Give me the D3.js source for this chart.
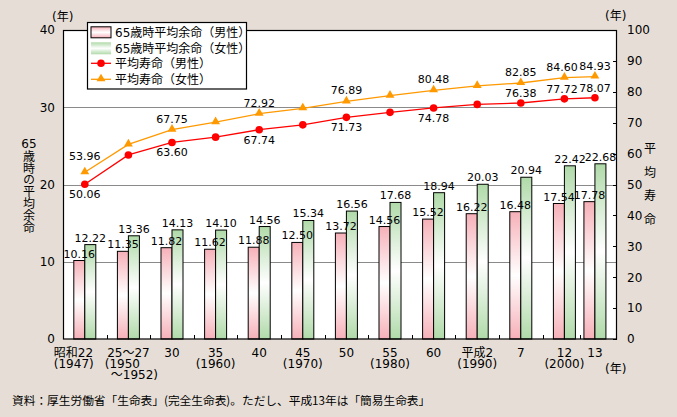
<!DOCTYPE html>
<html><head><meta charset="utf-8">
<script src="https://cdn.jsdelivr.net/npm/d3@7"></script>
<style>
html,body{margin:0;padding:0;background:#e6ded6;}
svg{display:block;}
text{font-family:"DejaVu Sans","Noto Sans CJK JP",sans-serif;fill:#000;}
</style></head><body><svg id="c" width="677" height="417"></svg>
<script>
// ---- data ----
const categories = ["昭和22","25～27","30","35","40","45","50","55","60","平成2","7","12","13"];
const categoryLines = [["昭和22","(1947)"],["25～27","(1950　","　～1952)"],["30"],["35","(1960)"],["40"],["45","(1970)"],["50"],["55","(1980)"],["60"],["平成2","(1990)"],["7"],["12","(2000)"],["13"]];
const male65 = [10.16,11.35,11.82,11.62,11.88,12.50,13.72,14.56,15.52,16.22,16.48,17.54,17.78];
const female65 = [12.22,13.36,14.13,14.10,14.56,15.34,16.56,17.68,18.94,20.03,20.94,22.42,22.68];
const maleLife = [50.06,59.57,63.60,65.32,67.74,69.31,71.73,73.35,74.78,75.92,76.38,77.72,78.07];
const femaleLife = [53.96,62.97,67.75,70.19,72.92,74.66,76.89,78.76,80.48,81.90,82.85,84.60,84.93];
const lifeLabelled = ["昭和22","30","40","50","60","7","12","13"];
const leftTicks = [0,10,20,30,40];
const rightTicks = [0,10,20,30,40,50,60,70,80,90,100];
const legendLabels = ["65歳時平均余命（男性）","65歳時平均余命（女性）","平均寿命（男性）","平均寿命（女性）"];
const leftTitleHead = "65";
const leftTitleBody = "歳時の平均余命";
const rightTitle = ["平","均","寿","命"];
const footnote = "資料：厚生労働省「生命表」(完全生命表)。ただし、平成13年は「簡易生命表」";

// ---- layout ----
const W=677,H=417;
const P={l:63,r:617,t:30,b:339};
const step=43.6, barW=11;
const svg=d3.select("#c");
svg.append("rect").attr("width",W).attr("height",H).attr("fill","#e6ded6");
const defs=svg.append("defs");
function grad(id,c){
  const g=defs.append("linearGradient").attr("id",id).attr("x1",0).attr("y1",0).attr("x2",0).attr("y2",1);
  g.append("stop").attr("offset","0%").attr("stop-color",c);
  g.append("stop").attr("offset","50%").attr("stop-color","#fff");
  g.append("stop").attr("offset","100%").attr("stop-color",c);
}
grad("gp","#f6b0b8"); grad("gg","#b0daa9");

const n=categories.length;
const x=d3.scaleLinear().domain([0,n-2,n-1]).range([P.l+step/2,P.l+step*(n-1.5),P.l+step*(n-0.8)]);
const yL=d3.scaleLinear().domain([0,40]).range([P.b,P.t]);
const yR=d3.scaleLinear().domain([0,100]).range([P.b,P.t]);

svg.append("rect").attr("x",P.l).attr("y",P.t).attr("width",P.r-P.l).attr("height",P.b-P.t).attr("fill","#fff");

// gridlines
svg.append("g").selectAll("line").data([10,20,30]).join("line")
  .attr("x1",P.l).attr("x2",P.r).attr("y1",d=>Math.round(yL(d))+0.5).attr("y2",d=>Math.round(yL(d))+0.5)
  .attr("stroke","#8a8a8a").attr("stroke-width",1);

// bars
const idx=d3.range(n);
const bars=svg.append("g");
bars.selectAll(".m").data(idx).join("rect")
  .attr("x",i=>x(i)-barW).attr("y",i=>yL(male65[i])).attr("width",barW).attr("height",i=>P.b-yL(male65[i]))
  .attr("fill","url(#gp)").attr("stroke","#000").attr("stroke-width",1);
bars.selectAll(".f").data(idx).join("rect")
  .attr("x",i=>x(i)).attr("y",i=>yL(female65[i])).attr("width",barW).attr("height",i=>P.b-yL(female65[i]))
  .attr("fill","url(#gg)").attr("stroke","#000").attr("stroke-width",1);

// frame
svg.append("rect").attr("x",P.l+0.5).attr("y",P.t+0.5).attr("width",P.r-P.l-1).attr("height",P.b-P.t-0.5)
  .attr("fill","none").attr("stroke","#000").attr("stroke-width",1.2);

// x ticks (inside, between categories)
svg.append("g").selectAll("line").data(d3.range(n-1)).join("line")
  .attr("x1",i=>Math.round((x(i)+x(i+1))/2)+0.5).attr("x2",i=>Math.round((x(i)+x(i+1))/2)+0.5)
  .attr("y1",P.b).attr("y2",P.b-4).attr("stroke","#000");
// right ticks
svg.append("g").selectAll("line").data(rightTicks).join("line")
  .attr("x1",P.r-4).attr("x2",P.r).attr("y1",d=>Math.round(yR(d))+0.5).attr("y2",d=>Math.round(yR(d))+0.5).attr("stroke","#000");

// lines
const lineGen=ys=>d3.line().x(i=>x(i)).y(i=>yR(ys[i]));
svg.append("path").attr("d",lineGen(femaleLife)(idx)).attr("fill","none").attr("stroke","#ff9900").attr("stroke-width",1.3);
svg.append("path").attr("d",lineGen(maleLife)(idx)).attr("fill","none").attr("stroke","#ff0000").attr("stroke-width",1.3);
const tri=d3.symbol().type(d3.symbolTriangle).size(34);
svg.append("g").selectAll("path").data(idx).join("path")
  .attr("d",tri).attr("transform",i=>`translate(${x(i)},${yR(femaleLife[i])-0.5})`).attr("fill","#ff9900");
svg.append("g").selectAll("circle").data(idx).join("circle")
  .attr("cx",i=>x(i)).attr("cy",i=>yR(maleLife[i])).attr("r",3.8).attr("fill","#ff0000");

// data labels
const lbl=svg.append("g").style("font-family","'Liberation Sans',Arial,sans-serif").style("font-size","11px").attr("text-anchor","middle");
idx.forEach(i=>{
  lbl.append("text").attr("x",x(i)-barW/2).attr("y",yL(male65[i])-3).text(male65[i].toFixed(2));
  lbl.append("text").attr("x",x(i)+barW/2).attr("y",yL(female65[i])-3).text(female65[i].toFixed(2));
  if(lifeLabelled.includes(categories[i])){
    const dx = i===n-2 ? -2.5 : 0;
    const fOff = i===0 ? -16 : -11;
    lbl.append("text").attr("x",x(i)+dx).attr("y",yR(femaleLife[i])+fOff+4).text(femaleLife[i].toFixed(2));
    const mOff = i<=8 ? 10 : -10;
    lbl.append("text").attr("x",x(i)+dx).attr("y",yR(maleLife[i])+mOff+4).text(maleLife[i].toFixed(2));
  }
});

// axis labels
const ax=svg.append("g").style("font-size","12px");
ax.selectAll(".l").data(leftTicks).join("text").attr("x",55).attr("y",d=>yL(d)+4.3).attr("text-anchor","end").text(d=>d);
ax.selectAll(".r").data(rightTicks).join("text").attr("x",627).attr("y",d=>yR(d)+4.3).attr("text-anchor","start").text(d=>d);
idx.forEach(i=>{
  const first=i===0;
  const t=ax.append("text").attr("text-anchor",first?"start":"middle").style("white-space","pre");
  categoryLines[i].forEach((s,k)=>{
    t.append("tspan").attr("x",first? x(i)-31 : x(i)).attr("y",352.5+k*11.3+4.3).text(s);
  });
});
ax.append("text").attr("x",52).attr("y",16.5+4.3).text("(年)");
ax.append("text").attr("x",605).attr("y",15.8+4.3).text("(年)");
ax.append("text").attr("x",605).attr("y",369+4.3).text("(年)");
ax.append("text").attr("x",29).attr("y",144+4.3).attr("text-anchor","middle").text(leftTitleHead);
ax.append("text").attr("x",29).attr("y",150.2).attr("writing-mode","vertical-rl")
  .style("font-family","'Noto Sans CJK JP',sans-serif").style("letter-spacing","-0.2px").text(leftTitleBody);
const rt=ax.append("text").attr("text-anchor","middle");
rightTitle.forEach((s,k)=>rt.append("tspan").attr("x",650).attr("y",148.3+k*23.9+4.3).text(s));
ax.append("text").attr("x",12).attr("y",400.7+4.3).style("font-family","'Noto Sans CJK JP',sans-serif").style("font-size","11.7px").text(footnote);

// legend
const lg=svg.append("g");
lg.append("rect").attr("x",87.5).attr("y",22.5).attr("width",159).attr("height",66.5).attr("fill","#fff").attr("stroke","#000").attr("stroke-width",1.2);
const rowY=[32.3,48.3,63.3,79.3];
lg.append("rect").attr("x",91).attr("y",rowY[0]-5.5).attr("width",20).attr("height",11).attr("fill","url(#gp)").attr("stroke","#000");
lg.append("rect").attr("x",91).attr("y",rowY[1]-6).attr("width",20).attr("height",12).attr("fill","url(#gg)");
lg.append("line").attr("x1",91).attr("x2",111).attr("y1",rowY[2]).attr("y2",rowY[2]).attr("stroke","#ff0000").attr("stroke-width",1.3);
lg.append("circle").attr("cx",101).attr("cy",rowY[2]).attr("r",3.8).attr("fill","#ff0000");
lg.append("line").attr("x1",91).attr("x2",111).attr("y1",rowY[3]).attr("y2",rowY[3]).attr("stroke","#ff9900").attr("stroke-width",1.3);
lg.append("path").attr("d",tri).attr("transform",`translate(101,${rowY[3]-0.5})`).attr("fill","#ff9900");
legendLabels.forEach((s,k)=>lg.append("text").attr("x",115).attr("y",rowY[k]+4.4).style("font-size","12px").text(s));
</script></body></html>
